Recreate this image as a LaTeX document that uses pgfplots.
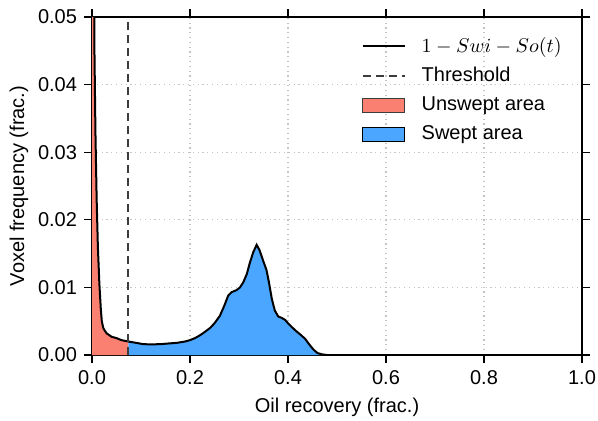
\documentclass[border=0pt]{standalone}
\usepackage{fontspec}
\setmainfont{Liberation Sans}
\usepackage{pgfplots}
\usepackage{pgfplotstable}
\pgfplotsset{compat=1.18}
\definecolor{unswept}{RGB}{250,128,114}
\definecolor{swept}{RGB}{74,166,255}
\definecolor{gridgray}{RGB}{195,195,195}
\definecolor{threshgray}{RGB}{60,60,60}
\pgfplotstableread{
x y
0.000 0.12
0.003 0.07
0.005 0.045
0.007 0.033
0.0095 0.023
0.012 0.016
0.015 0.0106
0.018 0.0068
0.020 0.0050
0.023 0.0040
0.027 0.0035
0.030 0.0032
0.040 0.0027
0.050 0.0025
0.060 0.0022
0.074 0.0020
0.090 0.0018
0.105 0.0016
0.120 0.00158
0.139 0.0016
0.155 0.0017
0.173 0.0018
0.190 0.0020
0.200 0.0022
0.210 0.0025
0.220 0.0029
0.230 0.0034
0.241 0.0040
0.250 0.0047
0.261 0.0058
0.270 0.0073
0.278 0.0088
0.285 0.0093
0.295 0.0096
0.302 0.0100
0.309 0.0108
0.316 0.0120
0.322 0.0136
0.329 0.0152
0.336 0.0163
0.342 0.0155
0.350 0.0138
0.356 0.0126
0.361 0.0108
0.367 0.0083
0.373 0.0066
0.380 0.0057
0.387 0.0055
0.394 0.0052
0.400 0.0047
0.407 0.0042
0.414 0.0037
0.424 0.0031
0.435 0.0024
0.443 0.0016
0.452 0.0008
0.460 0.0003
0.469 0.0001
0.480 0.0
0.600 0.0
1.000 0.0
}\curve
\begin{document}
\fontsize{10}{12}\selectfont
\begin{tikzpicture}
\begin{axis}[
  name=main,
  scale only axis, width=245pt, height=169pt,
  xmin=0, xmax=1, ymin=0, ymax=0.05,
  xtick={0,0.2,0.4,0.6,0.8,1.0},
  ytick={0,0.01,0.02,0.03,0.04,0.05},
  scaled y ticks=false, scaled x ticks=false,
  xticklabel style={/pgf/number format/.cd, fixed, fixed zerofill, precision=1, assume math mode=true},
  yticklabel style={/pgf/number format/.cd, fixed, fixed zerofill, precision=2, assume math mode=true},
  tick label style={font=\fontsize{10}{12}\selectfont},
  label style={font=\fontsize{10}{12}\selectfont},
  xlabel={Oil recovery (frac.)},
  ylabel={Voxel frequency (frac.)},
  ylabel style={yshift=-2pt},
  grid=major,
  major grid style={gridgray, line width=0.6pt, dash pattern=on 0.6pt off 1.8pt},
  axis line style={line width=0.8pt},
  tick style={black, line width=0.6pt},
  major tick length=4pt,
  tick align=outside, xtick pos=both, ytick pos=both,
  xticklabel pos=left, yticklabel pos=left,
  legend cell align=left,
  legend image code/.code={\draw[#1] (0pt,0pt) -- (21pt,0pt); \path (27pt,0pt);},
  legend style={at={(1,1)}, anchor=north east, xshift=-5pt, yshift=-6pt, draw=none, fill=none,
    font=\fontsize{10}{12}\selectfont, row sep=2pt},
]
\addplot[fill=unswept, draw=none, forget plot, restrict x to domain=0:0.074] table {\curve} \closedcycle;
\addplot[fill=swept, draw=none, forget plot, restrict x to domain=0.074:0.6] table {\curve} \closedcycle;
\addplot[black, line width=1pt] table {\curve};
\addlegendentry{$1-Swi-So(t)$}
\addplot[threshgray, line width=1pt, dash pattern=on 4pt off 2.5pt] coordinates {(0.074,0) (0.074,0.05)};
\addlegendentry{Threshold}
\addlegendimage{legend image code/.code={\draw[fill=unswept, draw=threshgray, line width=0.6pt] (0pt,-3.5pt) rectangle (21pt,3.5pt); \path (27pt,0pt);}}
\addlegendentry{Unswept area}
\addlegendimage{legend image code/.code={\draw[fill=swept, draw=black, line width=0.6pt] (0pt,-3.5pt) rectangle (21pt,3.5pt); \path (27pt,0pt);}}
\addlegendentry{Swept area}
\end{axis}
\pgfresetboundingbox
\path[use as bounding box] (-46pt,-32.5pt) rectangle (253pt,177.5pt);
\end{tikzpicture}
\end{document}
